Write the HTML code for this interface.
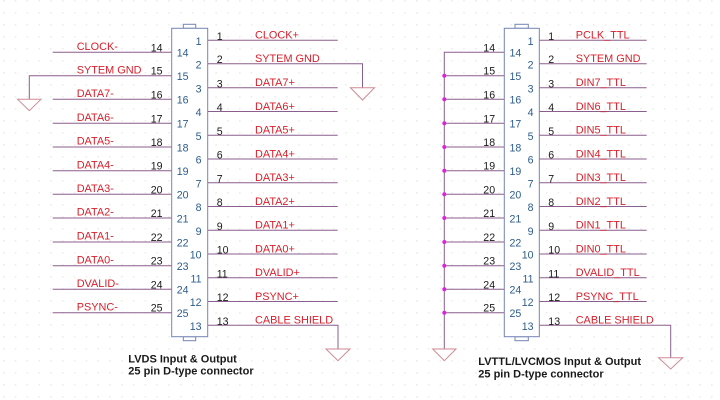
<!DOCTYPE html>
<html><head><meta charset="utf-8"><style>
html,body{margin:0;padding:0;background:#fff;}
svg{display:block;}
text{font-family:"Liberation Sans",Arial,sans-serif;}
.lb{fill:#d8202c;font-size:10.9px;}
.no{fill:#1a1a1a;font-size:10.6px;}
.in{fill:#2c5c8c;font-size:10.6px;}
.cap{fill:#1a1a1a;font-size:11px;font-weight:bold;}
.w{stroke:#8a5f8e;stroke-width:1;fill:none;}
.g{stroke:#d08a94;stroke-width:1;fill:none;}
.box{stroke:#7684b4;stroke-width:1;fill:#fff;}
</style></head><body>
<svg width="720" height="400" viewBox="0 0 720 400" xmlns="http://www.w3.org/2000/svg">
<defs>
<pattern id="dots" x="3" y="0" width="11.8" height="12" patternUnits="userSpaceOnUse">
<rect x="0" y="0" width="1.6" height="1.6" fill="#ededed"/>
</pattern>
</defs>
<rect width="720" height="400" fill="#fff"/>
<rect width="720" height="400" fill="url(#dots)"/>

<!-- ============ LEFT DIAGRAM ============ -->
<g class="w">
<line x1="52.7" y1="52.3" x2="172" y2="52.3"/>
<polyline points="29.3,99.3 29.3,75.7 172,75.7"/>
<line x1="52.7" y1="99.3" x2="172" y2="99.3"/>
<line x1="52.7" y1="123.3" x2="172" y2="123.3"/>
<line x1="52.7" y1="147" x2="172" y2="147"/>
<line x1="52.7" y1="170.7" x2="172" y2="170.7"/>
<line x1="52.7" y1="194.3" x2="172" y2="194.3"/>
<line x1="52.7" y1="218" x2="172" y2="218"/>
<line x1="52.7" y1="242" x2="172" y2="242"/>
<line x1="52.7" y1="265.7" x2="172" y2="265.7"/>
<line x1="52.7" y1="289.3" x2="172" y2="289.3"/>
<line x1="52.7" y1="312.7" x2="172" y2="312.7"/>
<line x1="207.7" y1="40.3" x2="337.7" y2="40.3"/>
<polyline points="207.7,63.7 362.5,63.7 362.5,87.7"/>
<line x1="207.7" y1="87.8" x2="337.7" y2="87.8"/>
<line x1="207.7" y1="111.5" x2="337.7" y2="111.5"/>
<line x1="207.7" y1="135.3" x2="337.7" y2="135.3"/>
<line x1="207.7" y1="159" x2="337.7" y2="159"/>
<line x1="207.7" y1="182.8" x2="337.7" y2="182.8"/>
<line x1="207.7" y1="206.5" x2="337.7" y2="206.5"/>
<line x1="207.7" y1="230.3" x2="337.7" y2="230.3"/>
<line x1="207.7" y1="254" x2="337.7" y2="254"/>
<line x1="207.7" y1="277.8" x2="337.7" y2="277.8"/>
<line x1="207.7" y1="301.5" x2="337.7" y2="301.5"/>
<polyline points="207.7,325.3 338,325.3 338,349"/>
</g>
<g class="g">
<polygon points="17.6,99.3 41,99.3 29.3,110.7"/>
<polygon points="350.5,87.7 374.5,87.7 362.5,100"/>
<polygon points="326,349 350,349 338,360.7"/>
</g>
<rect class="box" x="183.3" y="24.3" width="12.4" height="4"/>
<rect class="box" x="183.3" y="336.7" width="12.4" height="4"/>
<rect class="box" x="171.7" y="28.3" width="36" height="308.4"/>

<g class="lb">
<text x="76.7" y="50">CLOCK-</text>
<text x="76.7" y="73.4">SYTEM GND</text>
<text x="76.7" y="97">DATA7-</text>
<text x="76.7" y="121">DATA6-</text>
<text x="76.7" y="144.7">DATA5-</text>
<text x="76.7" y="168.4">DATA4-</text>
<text x="76.7" y="192">DATA3-</text>
<text x="76.7" y="215.7">DATA2-</text>
<text x="76.7" y="239.7">DATA1-</text>
<text x="76.7" y="263.4">DATA0-</text>
<text x="76.7" y="287">DVALID-</text>
<text x="76.7" y="310.4">PSYNC-</text>
</g>
<g class="no">
<text x="150.7" y="51.3">14</text>
<text x="150.7" y="74.7">15</text>
<text x="150.7" y="98.3">16</text>
<text x="150.7" y="122.3">17</text>
<text x="150.7" y="146">18</text>
<text x="150.7" y="169.7">19</text>
<text x="150.7" y="193.3">20</text>
<text x="150.7" y="217">21</text>
<text x="150.7" y="241">22</text>
<text x="150.7" y="264.7">23</text>
<text x="150.7" y="288.3">24</text>
<text x="150.7" y="311.7">25</text>
</g>
<g class="in">
<text x="176.7" y="56.6">14</text>
<text x="176.7" y="80">15</text>
<text x="176.7" y="103.6">16</text>
<text x="176.7" y="127.6">17</text>
<text x="176.7" y="151.3">18</text>
<text x="176.7" y="175">19</text>
<text x="176.7" y="198.6">20</text>
<text x="176.7" y="222.3">21</text>
<text x="176.7" y="246.3">22</text>
<text x="176.7" y="270">23</text>
<text x="176.7" y="293.6">24</text>
<text x="176.7" y="317">25</text>
</g>
<g class="in" text-anchor="end">
<text x="201.5" y="44.9">1</text>
<text x="201.5" y="68.3">2</text>
<text x="201.5" y="92.4">3</text>
<text x="201.5" y="116.1">4</text>
<text x="201.5" y="139.9">5</text>
<text x="201.5" y="163.6">6</text>
<text x="201.5" y="187.4">7</text>
<text x="201.5" y="211.1">8</text>
<text x="201.5" y="234.9">9</text>
<text x="201.5" y="258.6">10</text>
<text x="201.5" y="282.4">11</text>
<text x="201.5" y="306.1">12</text>
<text x="201.5" y="329.9">13</text>
</g>
<g class="no">
<text x="216.7" y="39.8">1</text>
<text x="216.7" y="63.2">2</text>
<text x="216.7" y="87.3">3</text>
<text x="216.7" y="111">4</text>
<text x="216.7" y="134.8">5</text>
<text x="216.7" y="158.5">6</text>
<text x="216.7" y="182.3">7</text>
<text x="216.7" y="206">8</text>
<text x="216.7" y="229.8">9</text>
<text x="216.7" y="253.5">10</text>
<text x="216.7" y="277.3">11</text>
<text x="216.7" y="301">12</text>
<text x="216.7" y="324.8">13</text>
</g>
<g class="lb">
<text x="255" y="38.7">CLOCK+</text>
<text x="255" y="62.1">SYTEM GND</text>
<text x="255" y="86.2">DATA7+</text>
<text x="255" y="109.9">DATA6+</text>
<text x="255" y="133.7">DATA5+</text>
<text x="255" y="157.4">DATA4+</text>
<text x="255" y="181.2">DATA3+</text>
<text x="255" y="204.9">DATA2+</text>
<text x="255" y="228.7">DATA1+</text>
<text x="255" y="252.4">DATA0+</text>
<text x="255" y="276.2">DVALID+</text>
<text x="255" y="299.9">PSYNC+</text>
<text x="255" y="323.7">CABLE SHIELD</text>
</g>
<text class="cap" x="128.3" y="362.7">LVDS Input &amp; Output</text>
<text class="cap" x="128.3" y="374.3">25 pin D-type connector</text>

<!-- ============ RIGHT DIAGRAM ============ -->
<g class="w">
<polyline points="504.3,52.3 444.3,52.3 444.3,349"/>
<line x1="444.3" y1="75.7" x2="504.3" y2="75.7"/>
<line x1="444.3" y1="99.3" x2="504.3" y2="99.3"/>
<line x1="444.3" y1="123.3" x2="504.3" y2="123.3"/>
<line x1="444.3" y1="147" x2="504.3" y2="147"/>
<line x1="444.3" y1="170.7" x2="504.3" y2="170.7"/>
<line x1="444.3" y1="194.3" x2="504.3" y2="194.3"/>
<line x1="444.3" y1="218" x2="504.3" y2="218"/>
<line x1="444.3" y1="242" x2="504.3" y2="242"/>
<line x1="444.3" y1="265.7" x2="504.3" y2="265.7"/>
<line x1="444.3" y1="289.3" x2="504.3" y2="289.3"/>
<line x1="444.3" y1="312.7" x2="504.3" y2="312.7"/>
<line x1="539.3" y1="40.3" x2="646.7" y2="40.3"/>
<line x1="539.3" y1="63.7" x2="646.7" y2="63.7"/>
<line x1="539.3" y1="87.8" x2="646.7" y2="87.8"/>
<line x1="539.3" y1="111.5" x2="646.7" y2="111.5"/>
<line x1="539.3" y1="135.3" x2="646.7" y2="135.3"/>
<line x1="539.3" y1="159" x2="646.7" y2="159"/>
<line x1="539.3" y1="182.8" x2="646.7" y2="182.8"/>
<line x1="539.3" y1="206.5" x2="646.7" y2="206.5"/>
<line x1="539.3" y1="230.3" x2="646.7" y2="230.3"/>
<line x1="539.3" y1="254" x2="646.7" y2="254"/>
<line x1="539.3" y1="277.8" x2="646.7" y2="277.8"/>
<line x1="539.3" y1="301.5" x2="646.7" y2="301.5"/>
<polyline points="539.3,325.3 670.7,325.3 670.7,357.7"/>
</g>
<g class="g">
<polygon points="432.7,349 456,349 444.3,360.7"/>
<polygon points="658.5,357.7 682.7,357.7 670.7,369"/>
</g>
<g fill="#e020e0">
<circle cx="444.3" cy="75.7" r="2"/>
<circle cx="444.3" cy="99.3" r="2"/>
<circle cx="444.3" cy="123.3" r="2"/>
<circle cx="444.3" cy="147" r="2"/>
<circle cx="444.3" cy="170.7" r="2"/>
<circle cx="444.3" cy="194.3" r="2"/>
<circle cx="444.3" cy="218" r="2"/>
<circle cx="444.3" cy="242" r="2"/>
<circle cx="444.3" cy="265.7" r="2"/>
<circle cx="444.3" cy="289.3" r="2"/>
<circle cx="444.3" cy="312.7" r="2"/>
</g>
<rect class="box" x="515" y="24.3" width="13.3" height="4"/>
<rect class="box" x="515" y="336.7" width="13.3" height="4"/>
<rect class="box" x="504.3" y="28.3" width="35" height="308.4"/>

<g class="no">
<text x="483.3" y="51.3">14</text>
<text x="483.3" y="74.7">15</text>
<text x="483.3" y="98.3">16</text>
<text x="483.3" y="122.3">17</text>
<text x="483.3" y="146">18</text>
<text x="483.3" y="169.7">19</text>
<text x="483.3" y="193.3">20</text>
<text x="483.3" y="217">21</text>
<text x="483.3" y="241">22</text>
<text x="483.3" y="264.7">23</text>
<text x="483.3" y="288.3">24</text>
<text x="483.3" y="311.7">25</text>
</g>
<g class="in">
<text x="509.5" y="56.6">14</text>
<text x="509.5" y="80">15</text>
<text x="509.5" y="103.6">16</text>
<text x="509.5" y="127.6">17</text>
<text x="509.5" y="151.3">18</text>
<text x="509.5" y="175">19</text>
<text x="509.5" y="198.6">20</text>
<text x="509.5" y="222.3">21</text>
<text x="509.5" y="246.3">22</text>
<text x="509.5" y="270">23</text>
<text x="509.5" y="293.6">24</text>
<text x="509.5" y="317">25</text>
</g>
<g class="in" text-anchor="end">
<text x="533.5" y="44.9">1</text>
<text x="533.5" y="68.3">2</text>
<text x="533.5" y="92.4">3</text>
<text x="533.5" y="116.1">4</text>
<text x="533.5" y="139.9">5</text>
<text x="533.5" y="163.6">6</text>
<text x="533.5" y="187.4">7</text>
<text x="533.5" y="211.1">8</text>
<text x="533.5" y="234.9">9</text>
<text x="533.5" y="258.6">10</text>
<text x="533.5" y="282.4">11</text>
<text x="533.5" y="306.1">12</text>
<text x="533.5" y="329.9">13</text>
</g>
<g class="no">
<text x="548.3" y="39.8">1</text>
<text x="548.3" y="63.2">2</text>
<text x="548.3" y="87.3">3</text>
<text x="548.3" y="111">4</text>
<text x="548.3" y="134.8">5</text>
<text x="548.3" y="158.5">6</text>
<text x="548.3" y="182.3">7</text>
<text x="548.3" y="206">8</text>
<text x="548.3" y="229.8">9</text>
<text x="548.3" y="253.5">10</text>
<text x="548.3" y="277.3">11</text>
<text x="548.3" y="301">12</text>
<text x="548.3" y="324.8">13</text>
</g>
<g class="lb">
<text x="575.7" y="38.7">PCLK_TTL</text>
<text x="575.7" y="62.1">SYTEM GND</text>
<text x="575.7" y="86.2">DIN7_TTL</text>
<text x="575.7" y="109.9">DIN6_TTL</text>
<text x="575.7" y="133.7">DIN5_TTL</text>
<text x="575.7" y="157.4">DIN4_TTL</text>
<text x="575.7" y="181.2">DIN3_TTL</text>
<text x="575.7" y="204.9">DIN2_TTL</text>
<text x="575.7" y="228.7">DIN1_TTL</text>
<text x="575.7" y="252.4">DIN0_TTL</text>
<text x="575.7" y="276.2">DVALID_TTL</text>
<text x="575.7" y="299.9">PSYNC_TTL</text>
<text x="575.7" y="323.7">CABLE SHIELD</text>
</g>
<text class="cap" x="478.3" y="365">LVTTL/LVCMOS Input &amp; Output</text>
<text class="cap" x="478.3" y="377.3">25 pin D-type connector</text>
</svg>
</body></html>
